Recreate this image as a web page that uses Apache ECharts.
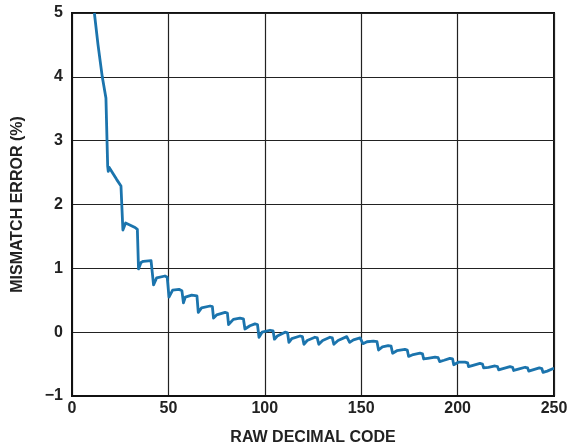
<!DOCTYPE html>
<html>
<head>
<meta charset="utf-8">
<script src="https://cdn.jsdelivr.net/npm/echarts@6/dist/echarts.min.js"></script>
<style>
html,body{margin:0;padding:0;background:#fff;}
#chart{width:567px;height:448px;}
</style>
</head>
<body>
<div id="chart"></div>
<script>
const xTicks = [0, 50, 100, 150, 200, 250];
const yTicks = [-1, 0, 1, 2, 3, 4, 5];
const codes = [
  11.6, 13.5, 15.7, 17.6,
  18.5, 18.8, 19.3, 20.2, 23.2, 25.4, 26.0,
  26.4, 26.9, 27.8, 32.7, 33.9,
  34.5, 35.8, 37, 41, 41.5,
  42.3, 43.9, 48.2, 49.4,
  50.3, 52.2, 55.5, 57.0,
  57.8, 58.8, 62.1, 64.8,
  65.5, 67.2, 71.6, 72.8,
  73.4, 75, 79.4, 80.6,
  81.2, 83.7, 87.1, 88.9,
  89.7, 92.3, 94.9, 96.2,
  97, 98.6, 102.7, 104.3,
  105, 106.5, 110.5, 111.8,
  112.5, 114, 118.3, 119.5,
  120.3, 122, 126, 127.2,
  128, 130, 133.8, 135,
  135.8, 138, 142.5, 143.3,
  144, 146, 149.4, 150.3,
  150.9, 153, 156.3, 158.2,
  159, 161, 164, 165.5,
  166.3, 168.5, 172.7, 173.9,
  174.6, 177, 180.5, 181.8,
  182.4, 184.5, 188.3, 189.9,
  190.7, 193, 196, 197.4,
  198, 200.4, 203.8, 205.2,
  205.7, 208, 211.6, 212.9,
  213.5, 216, 219.4, 220.7,
  221.3, 223.5, 227.2, 228.5,
  229.1, 231.5, 235, 236.3,
  236.9, 239, 242.4, 243.7,
  244.3, 246.5, 249.6, 250
];
const mismatchError = [
  5.0, 4.5, 4.0, 3.67,
  2.6, 2.52, 2.58, 2.57, 2.39, 2.29, 2.27,
  1.6, 1.58, 1.71, 1.64, 1.61,
  0.99, 1.09, 1.11, 1.12, 1.1,
  0.74, 0.85, 0.88, 0.86,
  0.55, 0.66, 0.67, 0.65,
  0.46, 0.55, 0.58, 0.57,
  0.31, 0.38, 0.41, 0.40,
  0.22, 0.27, 0.31, 0.30,
  0.12, 0.20, 0.22, 0.21,
  0.05, 0.10, 0.13, 0.12,
  -0.08, 0.0, 0.03, 0.02,
  -0.11, -0.06, 0.0, -0.01,
  -0.16, -0.10, -0.06, -0.07,
  -0.19, -0.13, -0.08, -0.09,
  -0.19, -0.13, -0.08, -0.09,
  -0.19, -0.13, -0.07, -0.08,
  -0.16, -0.12, -0.09, -0.10,
  -0.18, -0.15, -0.14, -0.15,
  -0.28, -0.23, -0.21, -0.22,
  -0.33, -0.29, -0.27, -0.28,
  -0.38, -0.35, -0.33, -0.34,
  -0.42, -0.41, -0.39, -0.40,
  -0.46, -0.44, -0.41, -0.42,
  -0.51, -0.47, -0.47, -0.48,
  -0.54, -0.52, -0.49, -0.50,
  -0.56, -0.55, -0.53, -0.54,
  -0.59, -0.57, -0.54, -0.55,
  -0.60, -0.58, -0.55, -0.56,
  -0.61, -0.59, -0.56, -0.57,
  -0.63, -0.61, -0.57, -0.57
];
const xTitle = 'RAW DECIMAL CODE';
const yTitle = 'MISMATCH ERROR (%)';

const points = codes.map((c, i) => [c, mismatchError[i]]);
const fmt = v => (v < 0 ? '\u2212' + Math.abs(v) : String(v));

const chart = echarts.init(document.getElementById('chart'), null, {renderer: 'canvas'});
const fam = 'Liberation Sans, Arial, sans-serif';
const labelStyle = {fontFamily: fam, fontWeight: 'bold', fontSize: 16, color: '#222'};
const titleStyle = {fontFamily: fam, fontWeight: 'bold', fontSize: 16, color: '#222'};
chart.setOption({
  animation: false,
  backgroundColor: '#fff',
  grid: {left: 72, right: 13, top: 13, bottom: 52, outerBoundsMode: 'none', containLabel: false, show: true, borderColor: '#111', borderWidth: 2, backgroundColor: 'transparent'},
  xAxis: {
    type: 'value', min: xTicks[0], max: xTicks[xTicks.length - 1], interval: 50,
    name: xTitle, nameLocation: 'middle', nameGap: 34,
    nameTextStyle: titleStyle,
    axisLine: {show: true, onZero: false, lineStyle: {color: '#111', width: 2}},
    axisTick: {show: false},
    axisLabel: Object.assign({margin: 5, formatter: fmt}, labelStyle),
    splitLine: {show: true, lineStyle: {color: '#222', width: 1.2}}
  },
  yAxis: {
    type: 'value', min: yTicks[0], max: yTicks[yTicks.length - 1], interval: 1,
    name: yTitle, nameLocation: 'middle', nameGap: 46, nameRotate: 90,
    nameTextStyle: titleStyle,
    axisLine: {show: true, onZero: false, lineStyle: {color: '#111', width: 2}},
    axisTick: {show: false},
    axisLabel: Object.assign({margin: 9, formatter: fmt}, labelStyle),
    splitLine: {show: true, lineStyle: {color: '#222', width: 1.2}}
  },
  series: [{
    type: 'line',
    data: points,
    showSymbol: false,
    clip: true,
    lineStyle: {color: '#1b74ad', width: 2.8, join: 'round'},
    itemStyle: {color: '#1b74ad'}
  }]
});
</script>
</body>
</html>
